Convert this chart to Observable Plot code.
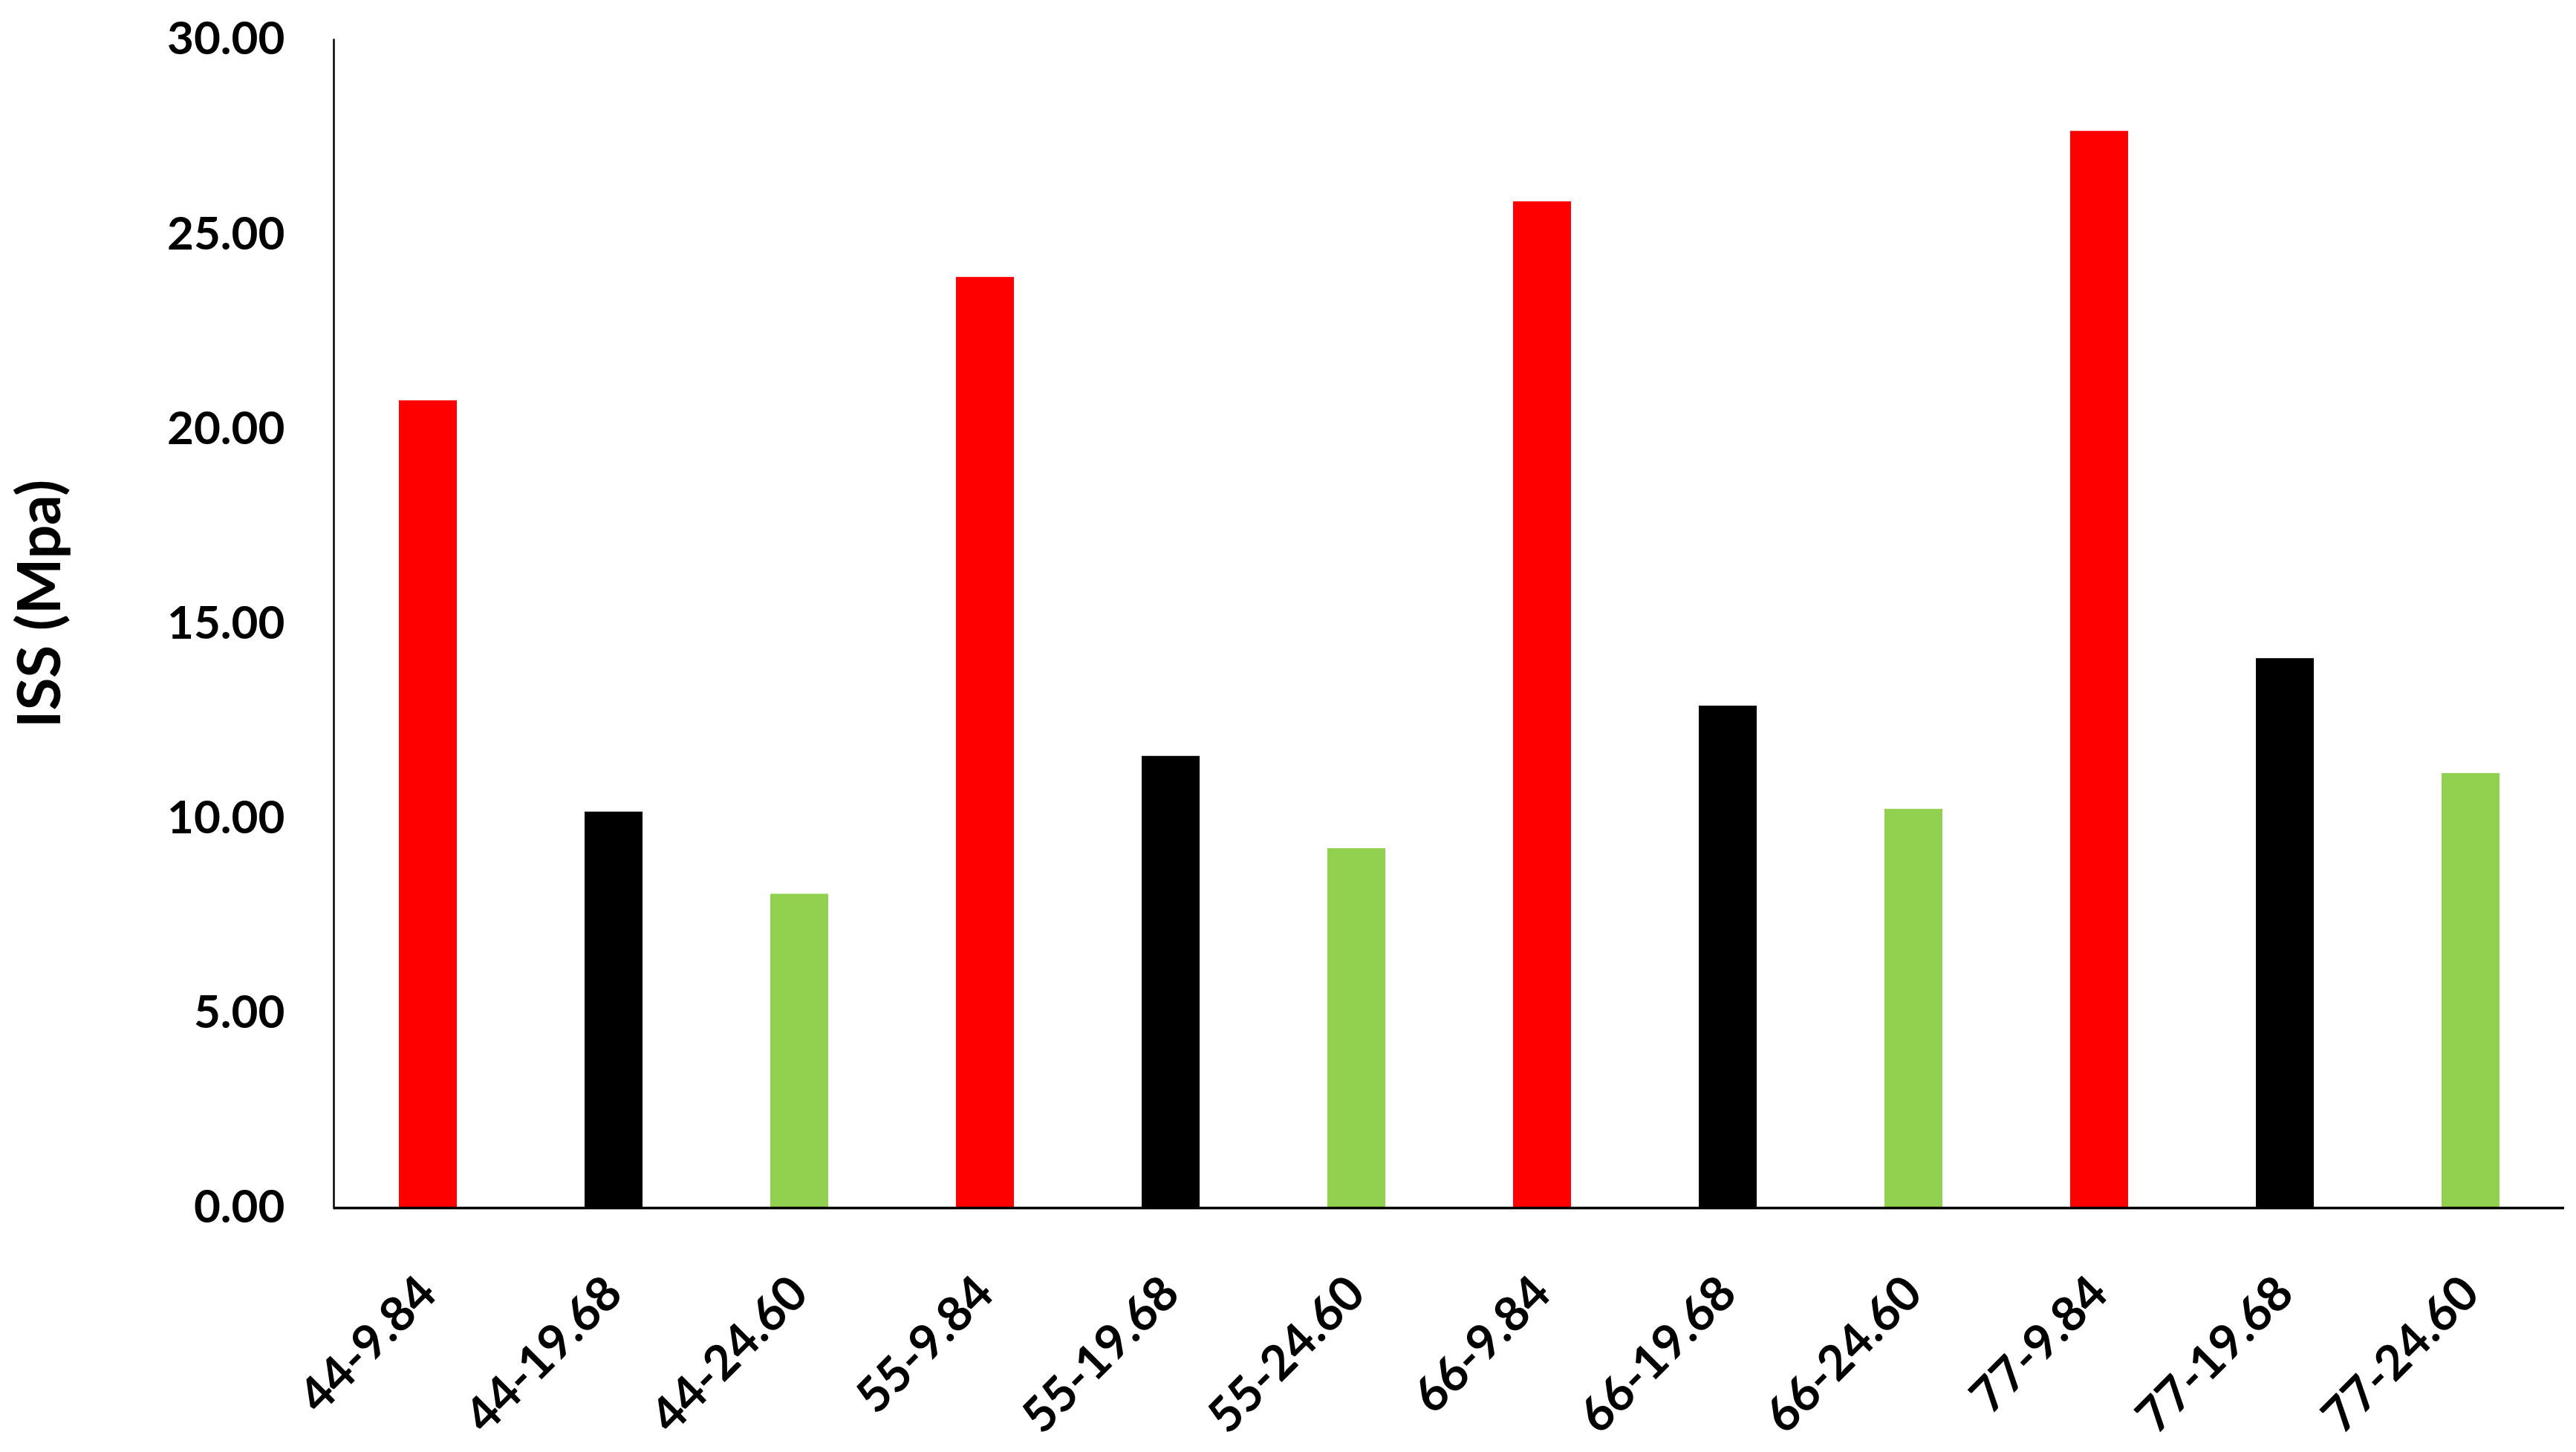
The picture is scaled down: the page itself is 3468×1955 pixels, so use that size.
<!DOCTYPE html>
<html><head><meta charset="utf-8">
<script src="https://cdn.jsdelivr.net/npm/d3@7"></script>
<script src="https://cdn.jsdelivr.net/npm/@observablehq/plot@0.6"></script>
<style>html,body{margin:0;padding:0;background:#fff}</style>
</head><body><div id="chart"></div>
<script>
const categories = ["44-9.84","44-19.68","44-24.60","55-9.84","55-19.68","55-24.60","66-9.84","66-19.68","66-24.60","77-9.84","77-19.68","77-24.60"];
const values = [20.73, 10.17, 8.06, 23.90, 11.60, 9.23, 25.84, 12.89, 10.24, 27.65, 14.11, 11.16];
const seriesNames = ["9.84","19.68","24.60"];
const seriesColors = ["#FF0000","#000000","#92D050"];
const yTicks = [0, 5, 10, 15, 20, 25, 30];
const yLabel = "ISS (Mpa)";

const data = categories.map((c, i) => ({category: c, value: values[i], series: c.split("-")[1]}));

const chart = Plot.plot({
  width: 3468, height: 1955,
  marginLeft: 449, marginRight: 16, marginTop: 53, marginBottom: 329,
  style: {fontFamily: "Lato", fontWeight: "bold", fontSize: "62px", color: "#000", background: "#fff"},
  x: {domain: categories, paddingInner: 0.69, paddingOuter: 0.345, label: null},
  y: {domain: [0, 30], label: null},
  color: {domain: seriesNames, range: seriesColors},
  marks: [
    Plot.barY(data, {x: "category", y: "value", fill: "series"}),
    Plot.frame({anchor: "left", stroke: "#000", strokeWidth: 2.5}),
    Plot.ruleY([0], {stroke: "#000", strokeWidth: 3.5}),
    Plot.axisY({ticks: yTicks, tickFormat: d => d.toFixed(2), tickSize: 0, tickPadding: 66, fontSize: 62, fontWeight: "bold", label: null}),
    Plot.axisX({tickRotate: -45, tickSize: 0, tickPadding: 104, fontSize: 65, fontWeight: "bold", label: null}),
    Plot.text([yLabel], {text: d => d, frameAnchor: "left", rotate: -90, dx: -394, dy: -27, fontSize: 80, fontWeight: "bold", textAnchor: "middle", lineAnchor: "middle"})
  ]
});
document.getElementById("chart").appendChild(chart);
</script>
</body></html>
